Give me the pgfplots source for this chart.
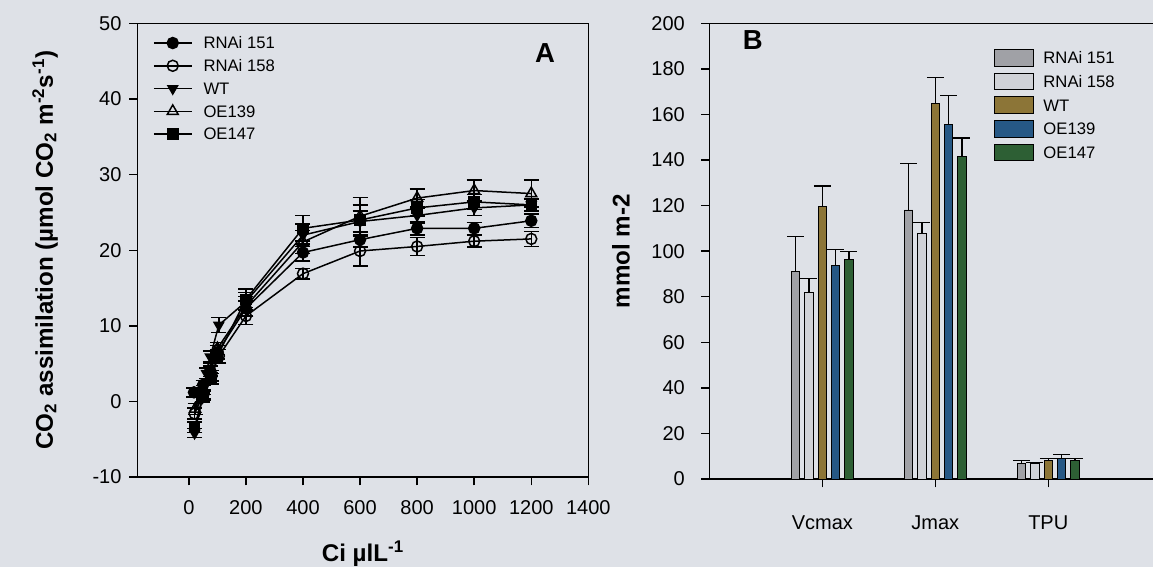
\documentclass[border=0pt]{standalone}
\usepackage{fontspec}
\setmainfont{Liberation Sans}
\usepackage{pgfplots}
\pgfplotsset{compat=1.18}
\usepackage{pgfplotstable}

\definecolor{paper}{RGB}{222,225,231}
\definecolor{cRa}{RGB}{160,161,166}
\definecolor{cRb}{RGB}{208,210,215}
\definecolor{cWT}{RGB}{140,117,55}
\definecolor{cOEa}{RGB}{38,88,133}
\definecolor{cOEb}{RGB}{45,95,52}

% A/Ci response curves: x = Ci, y = CO2 assimilation, e = s.e.
\pgfplotstableread{
x y e
18 1.2 0.6
50 2.2 0.6
75 4.0 0.7
100 6.5 0.9
200 12.3 1.0
400 19.7 1.1
600 21.4 1.0
800 22.9 0.9
1000 22.9 0.8
1200 23.9 0.9
}\curveRa
\pgfplotstableread{
x y e
20 -1.6 0.7
52 1.0 0.6
80 3.4 0.7
105 6.0 0.9
200 11.3 1.1
400 16.9 0.7
600 19.9 2.0
800 20.5 1.2
1000 21.2 0.8
1200 21.5 1.0
}\curveRb
\pgfplotstableread{
x y e
20 -4.2 0.6
48 0.5 0.6
62 3.7 0.7
75 5.9 0.8
105 10.1 1.0
200 13.2 1.2
400 22.0 1.5
600 23.8 1.4
800 24.6 1.0
1000 25.6 1.0
1200 26.0 0.8
}\curveWT
\pgfplotstableread{
x y e
22 -1.0 0.7
50 1.5 0.6
75 4.5 0.7
100 7.0 0.8
200 12.6 1.3
400 21.1 1.5
600 24.5 2.5
800 26.9 1.2
1000 27.9 1.4
1200 27.5 1.8
}\curveOEa
\pgfplotstableread{
x y e
20 -3.4 0.7
50 0.8 0.6
78 3.0 0.7
100 6.0 0.9
200 13.5 1.4
400 22.9 1.7
600 24.0 2.0
800 25.6 1.1
1000 26.4 1.0
1200 26.0 0.8
}\curveOEb

% Fitted parameters: 1 = Vcmax, 2 = Jmax, 3 = TPU
\pgfplotstableread{
x y e
1 91.0 15.4
2 118.1 20.4
3 7.0 1.0
}\parRa
\pgfplotstableread{
x y e
1 81.9 6.1
2 107.7 4.8
3 6.7 0.6
}\parRb
\pgfplotstableread{
x y e
1 119.5 9.1
2 165.0 11.2
3 8.2 0.8
}\parWT
\pgfplotstableread{
x y e
1 93.6 7.3
2 155.8 12.4
3 9.2 1.6
}\parOEa
\pgfplotstableread{
x y e
1 96.5 3.4
2 141.7 8.0
3 8.3 0.7
}\parOEb

\pgfplotsset{
  common/.style={
    scale only axis,
    tick align=outside, xtick pos=left, ytick pos=left,
    major tick length=5pt,
    tick style={line width=0.9pt, black},
    tick label style={font=\fontsize{12}{14}\selectfont},
    label style={font=\fontsize{14.5}{16}\selectfont\bfseries},
    /pgf/number format/assume math mode=true,
    /pgf/number format/1000 sep={},
    legend cell align=left,
  },
  % error bars only, drawn beneath the curves
  ebars/.style={forget plot, draw=none, mark=none,
    error bars/y dir=both, error bars/y explicit,
    error bars/error bar style={draw=black, line width=0.9pt},
    error bars/error mark options={draw=black, rotate=90, mark size=4.5pt, line width=0.9pt}},
  curve/.style={black, line width=0.9pt, mark size=3.3pt},
  bars/.style={draw=black, line width=0.5pt,
    legend image code/.code={\draw[##1] (0pt,-5pt) rectangle (23.4pt,5pt);},
    error bars/y dir=plus, error bars/y explicit,
    error bars/error bar style={line width=0.7pt, black},
    error bars/error mark options={rotate=90, mark size=5.1pt, line width=0.7pt, black}},
}

\begin{document}
\begin{tikzpicture}
\path[use as bounding box, fill=paper] (0,0) rectangle (691.8pt,340.2pt);

% Panel A: assimilation versus intercellular CO2
\begin{axis}[common,
  at={(82.5pt,54pt)}, anchor=south west,
  width=270.5pt, height=272.1pt,
  xmin=-180, xmax=1400, ymin=-10, ymax=50,
  xtick={0,200,...,1400}, ytick={-10,0,...,50},
  axis line style={line width=0.9pt},
  xticklabel style={yshift=-5.5pt},
  yticklabel style={xshift=-1.1pt},
  xlabel={Ci µlL\textsuperscript{-1}},
  xlabel style={at={(axis description cs:0.5,-0.169)}, anchor=center},
  ylabel={CO\textsubscript{2} assimilation (µmol CO\textsubscript{2} m\textsuperscript{-2}s\textsuperscript{-1})},
  ylabel style={at={(axis description cs:-0.205,0.5)}, anchor=center},
  legend image code/.code={\draw[mark repeat=2,mark phase=2,#1] plot coordinates {(0pt,0pt)(11.4pt,0pt)(22.8pt,0pt)};},
  legend style={draw=none, fill=none, inner sep=0pt, outer sep=0pt,
    at={(axis description cs:0.0344,0.9735)}, anchor=north west,
    font=\fontsize{10}{12}\selectfont, row sep=4.65pt,
    nodes={inner sep=0pt, text height=8pt, text depth=1pt},
    /tikz/every odd column/.append style={column sep=6.6pt}},
]
\addplot[ebars] table[x=x, y=y, y error=e] {\curveRa};
\addplot[ebars] table[x=x, y=y, y error=e] {\curveRb};
\addplot[ebars] table[x=x, y=y, y error=e] {\curveWT};
\addplot[ebars] table[x=x, y=y, y error=e] {\curveOEa};
\addplot[ebars] table[x=x, y=y, y error=e] {\curveOEb};
\addplot[curve, mark=*] table[x=x, y=y] {\curveRa};
\addlegendentry{RNAi 151}
\addplot[curve, mark=o, mark options={fill=paper}] table[x=x, y=y] {\curveRb};
\addlegendentry{RNAi 158}
\addplot[curve, mark=triangle*, mark options={rotate=180}] table[x=x, y=y] {\curveWT};
\addlegendentry{WT}
\addplot[curve, mark=triangle, mark size=3.8pt, mark options={fill=paper}] table[x=x, y=y] {\curveOEa};
\addlegendentry{OE139}
\addplot[curve, mark=square*, mark size=3pt] table[x=x, y=y] {\curveOEb};
\addlegendentry{OE147}
\node[font=\fontsize{16.5}{18}\selectfont\bfseries] at (rel axis cs:0.904,0.935) {A};
\end{axis}

% Panel B: Vcmax, Jmax and TPU
\begin{axis}[common,
  at={(425.6pt,52.8pt)}, anchor=south west,
  width=266.4pt, height=273.4pt,
  ybar=2.9pt, bar width=5.1pt,
  xmin=0, xmax=3.93, ymin=0, ymax=200,
  xtick={1,2,3}, xticklabels={Vcmax,Jmax,TPU},
  ytick={0,20,...,200},
  axis line style={draw=none}, clip=false,
  xticklabel style={yshift=-13.3pt},
  yticklabel style={xshift=-6.2pt},
  ylabel={mmol m-2},
  ylabel style={at={(axis description cs:-0.199,0.5)}, anchor=center},
  legend style={draw=none, fill=none, inner sep=0pt, outer sep=0pt,
    at={(axis description cs:0.641,0.9435)}, anchor=north west,
    font=\fontsize{10}{12}\selectfont, row sep=3.7pt,
    nodes={inner sep=0pt, text height=8.6pt, text depth=1.4pt},
    /tikz/every odd column/.append style={column sep=5.8pt}},
]
\draw[line width=0.9pt] (rel axis cs:0,0) -- (rel axis cs:0,1) -- (rel axis cs:1,1);
\draw[line width=0.9pt] (rel axis cs:0,0) -- (rel axis cs:1,0);
\addplot[bars, fill=cRa] table[x=x, y=y, y error=e] {\parRa};
\addlegendentry{RNAi 151}
\addplot[bars, fill=cRb] table[x=x, y=y, y error=e] {\parRb};
\addlegendentry{RNAi 158}
\addplot[bars, fill=cWT] table[x=x, y=y, y error=e] {\parWT};
\addlegendentry{WT}
\addplot[bars, fill=cOEa] table[x=x, y=y, y error=e] {\parOEa};
\addlegendentry{OE139}
\addplot[bars, fill=cOEb] table[x=x, y=y, y error=e] {\parOEb};
\addlegendentry{OE147}
\node[font=\fontsize{16.5}{18}\selectfont\bfseries] at (rel axis cs:0.098,0.963) {B};
\end{axis}
\end{tikzpicture}
\end{document}
